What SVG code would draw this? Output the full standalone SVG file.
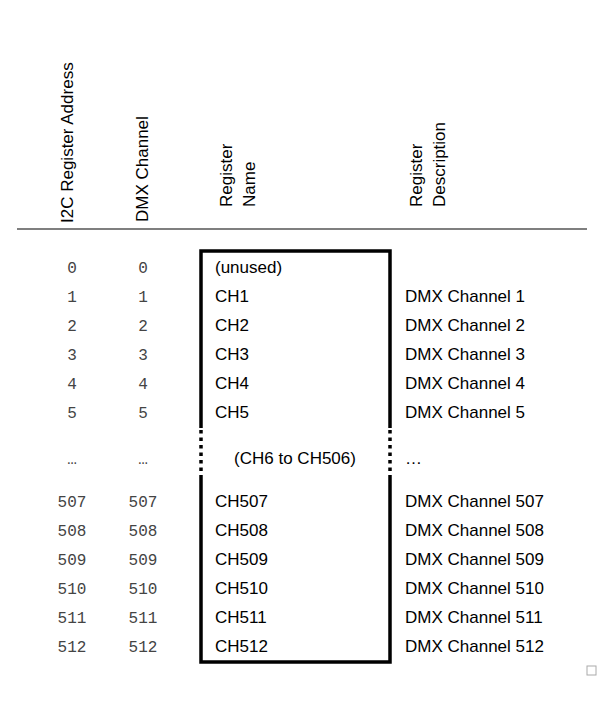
<svg xmlns="http://www.w3.org/2000/svg" width="600" height="708" viewBox="0 0 600 708">
<style>
.h{font-family:"Liberation Sans",Arial,sans-serif;font-size:17px;fill:#000}
.m{font-family:"Liberation Mono","Courier New",monospace;font-size:16px;fill:#444;text-anchor:middle}
.s{font-family:"Liberation Sans",Arial,sans-serif;font-size:17px;fill:#000}
.b{stroke:#000;stroke-width:3.5;fill:none}
.d{stroke:#000;stroke-width:3.5;fill:none;stroke-dasharray:3.5 4}
</style>
<rect width="600" height="708" fill="#fff"/>
<g id="headers">
<text class="h" transform="translate(73,223) rotate(-90)">I2C Register Address</text>
<text class="h" transform="translate(148,222) rotate(-90)">DMX Channel</text>
<text class="h" transform="translate(232,207) rotate(-90)">Register</text>
<text class="h" transform="translate(255,207) rotate(-90)">Name</text>
<text class="h" transform="translate(422,207) rotate(-90)">Register</text>
<text class="h" transform="translate(445,207) rotate(-90)">Description</text>
</g>
<line x1="17" y1="229" x2="587" y2="229" stroke="#000" stroke-width="1.2"/>
<g id="box">
<path class="b" d="M201,428 V251 H390 V428"/>
<path class="b" d="M201,478 V662 H390 V478"/>
<line class="d" x1="201" y1="430" x2="201" y2="478"/>
<line class="d" x1="390" y1="430" x2="390" y2="478"/>
</g>
<g id="rows">
<text class="m" x="72" y="273">0</text><text class="m" x="143" y="273">0</text><text class="s" x="215" y="273">(unused)</text>
<text class="m" x="72" y="302">1</text><text class="m" x="143" y="302">1</text><text class="s" x="215" y="302">CH1</text><text class="s" x="405" y="302">DMX Channel 1</text>
<text class="m" x="72" y="331">2</text><text class="m" x="143" y="331">2</text><text class="s" x="215" y="331">CH2</text><text class="s" x="405" y="331">DMX Channel 2</text>
<text class="m" x="72" y="360">3</text><text class="m" x="143" y="360">3</text><text class="s" x="215" y="360">CH3</text><text class="s" x="405" y="360">DMX Channel 3</text>
<text class="m" x="72" y="389">4</text><text class="m" x="143" y="389">4</text><text class="s" x="215" y="389">CH4</text><text class="s" x="405" y="389">DMX Channel 4</text>
<text class="m" x="72" y="418">5</text><text class="m" x="143" y="418">5</text><text class="s" x="215" y="418">CH5</text><text class="s" x="405" y="418">DMX Channel 5</text>
<text class="m" x="72" y="464">…</text><text class="m" x="143" y="464">…</text><text class="s" x="295" y="464" text-anchor="middle">(CH6 to CH506)</text><text class="s" x="405" y="464">…</text>
<text class="m" x="72" y="507">507</text><text class="m" x="143" y="507">507</text><text class="s" x="215" y="507">CH507</text><text class="s" x="405" y="507">DMX Channel 507</text>
<text class="m" x="72" y="536">508</text><text class="m" x="143" y="536">508</text><text class="s" x="215" y="536">CH508</text><text class="s" x="405" y="536">DMX Channel 508</text>
<text class="m" x="72" y="565">509</text><text class="m" x="143" y="565">509</text><text class="s" x="215" y="565">CH509</text><text class="s" x="405" y="565">DMX Channel 509</text>
<text class="m" x="72" y="594">510</text><text class="m" x="143" y="594">510</text><text class="s" x="215" y="594">CH510</text><text class="s" x="405" y="594">DMX Channel 510</text>
<text class="m" x="72" y="623">511</text><text class="m" x="143" y="623">511</text><text class="s" x="215" y="623">CH511</text><text class="s" x="405" y="623">DMX Channel 511</text>
<text class="m" x="72" y="652">512</text><text class="m" x="143" y="652">512</text><text class="s" x="215" y="652">CH512</text><text class="s" x="405" y="652">DMX Channel 512</text>
</g>
<rect x="587" y="666" width="9" height="9" fill="none" stroke="#aaa" stroke-width="1"/>
</svg>
